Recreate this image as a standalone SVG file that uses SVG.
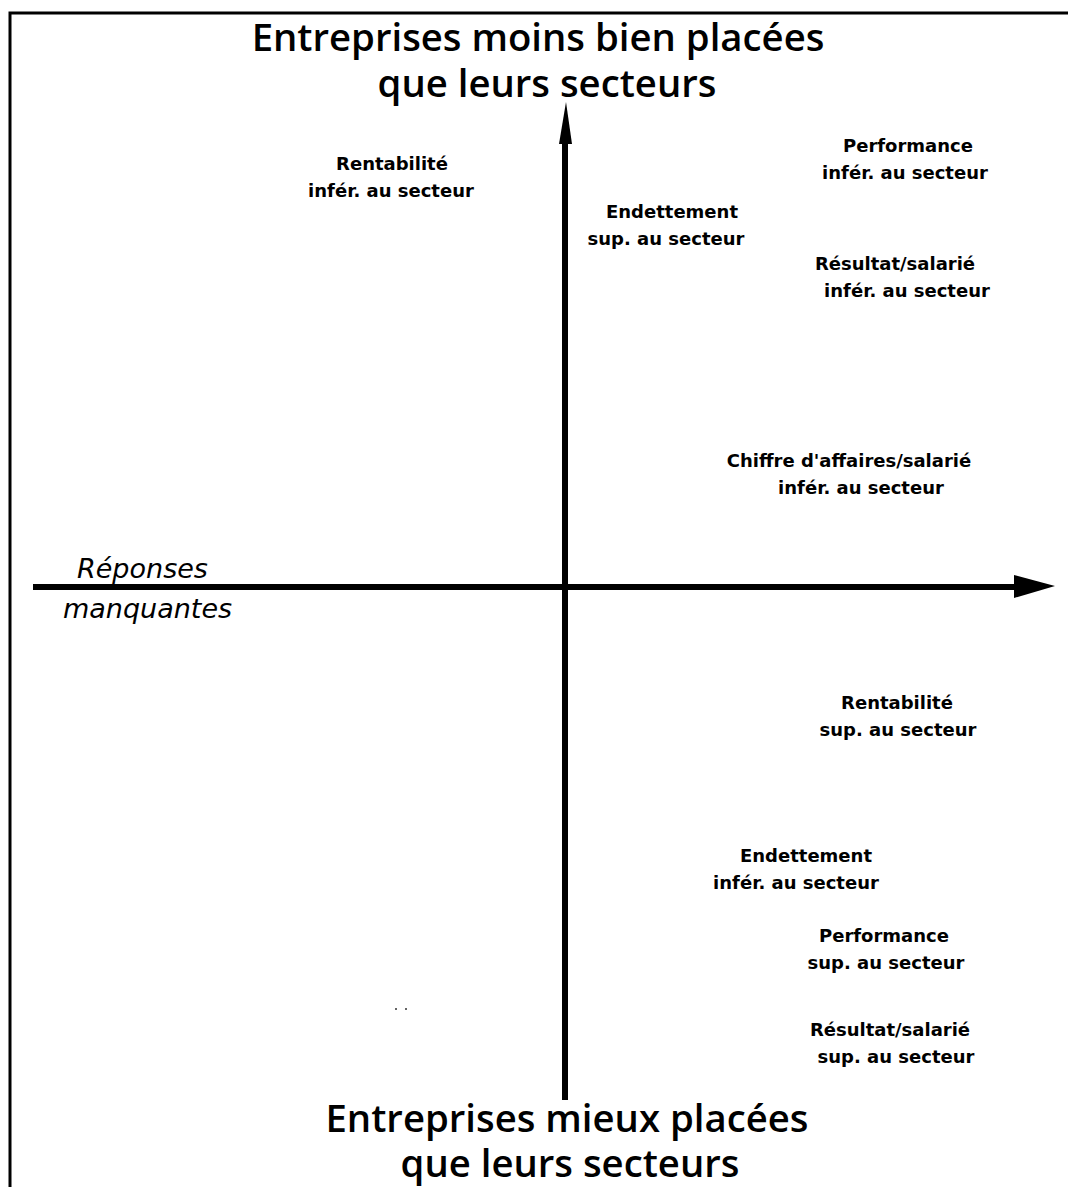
<svg xmlns="http://www.w3.org/2000/svg" width="1068" height="1187" viewBox="0 0 1068 1187">
<style>
.title{font-family:"Open Sans","Noto Sans","Liberation Sans",sans-serif;font-size:38.3px;font-weight:600;fill:#000;text-anchor:middle}
.lbl{font-family:"DejaVu Sans","Liberation Sans",sans-serif;font-size:18px;font-weight:bold;fill:#000;text-anchor:middle}
.it{font-family:"DejaVu Sans","Liberation Sans",sans-serif;font-size:27px;font-style:italic;fill:#000}
.ax{stroke:#000;stroke-width:6;fill:none}
</style>
<rect width="1068" height="1187" fill="#fff"/>
<g id="frame">
<path d="M10 1187 V13 H1068" stroke="#000" stroke-width="3" fill="none"/>
</g>
<g id="connectors">
<line class="ax" x1="33" y1="587" x2="1018" y2="587"/>
<polygon points="1014,575 1055,586 1014,598" fill="#000"/>
<line class="ax" x1="565" y1="1100" x2="565" y2="138"/>
<polygon points="566,102 559,144 572,144" fill="#000"/>
</g>
<g id="title-top">
<text class="title" x="538" y="51">Entreprises moins bien placées</text>
<text class="title" x="547" y="97">que leurs secteurs</text>
</g>
<g id="title-bottom">
<text class="title" x="567" y="1132">Entreprises mieux placées</text>
<text class="title" x="570" y="1177">que leurs secteurs</text>
</g>
<g id="missing">
<text class="it" x="77" y="578">Réponses</text>
<text class="it" x="63" y="618">manquantes</text>
</g>
<g id="n1"><text class="lbl" x="392" y="170">Rentabilité</text><text class="lbl" x="391" y="197">infér. au secteur</text></g>
<g id="n2"><text class="lbl" x="908" y="152">Performance</text><text class="lbl" x="905" y="179">infér. au secteur</text></g>
<g id="n3"><text class="lbl" x="672" y="218">Endettement</text><text class="lbl" x="666" y="245">sup. au secteur</text></g>
<g id="n4"><text class="lbl" x="895" y="270">Résultat/salarié</text><text class="lbl" x="907" y="297">infér. au secteur</text></g>
<g id="n5"><text class="lbl" x="849" y="467">Chiffre d'affaires/salarié</text><text class="lbl" x="861" y="494">infér. au secteur</text></g>
<g id="n6"><text class="lbl" x="897" y="709">Rentabilité</text><text class="lbl" x="898" y="736">sup. au secteur</text></g>
<g id="n7"><text class="lbl" x="806" y="862">Endettement</text><text class="lbl" x="796" y="889">infér. au secteur</text></g>
<g id="n8"><text class="lbl" x="884" y="942">Performance</text><text class="lbl" x="886" y="969">sup. au secteur</text></g>
<g id="n9"><text class="lbl" x="890" y="1036">Résultat/salarié</text><text class="lbl" x="896" y="1063">sup. au secteur</text></g>
<g id="specks" fill="#666"><rect x="395" y="1008" width="2" height="2"/><rect x="405" y="1008" width="2" height="2"/></g>
</svg>
